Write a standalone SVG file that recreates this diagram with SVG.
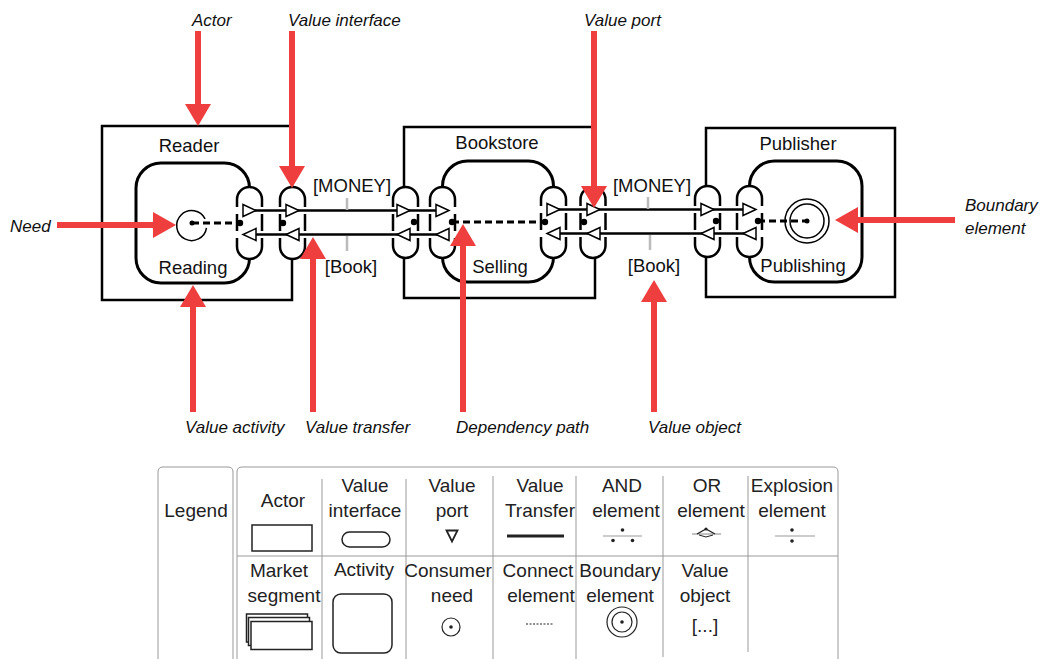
<svg xmlns="http://www.w3.org/2000/svg" width="1040" height="659" viewBox="0 0 1040 659">
<defs>
<style>
.actor{fill:#fff;stroke:#000;stroke-width:2.5}
.act{fill:#fff;stroke:#000;stroke-width:3}
.vi{fill:#fff;stroke:#000;stroke-width:2.5}
.gap{stroke:#fff;stroke-width:7}
.vt{stroke:#000;stroke-width:2.5;fill:none}
.port{fill:#fff;stroke:#000;stroke-width:1.5}
.dot{fill:#000}
.dep{stroke:#000;stroke-width:2.8;stroke-dasharray:7 4;fill:none}
.tick{stroke:#bbb;stroke-width:2.5}
.lbl{font-family:"Liberation Sans",Arial,sans-serif;font-size:18.5px;fill:#111;text-anchor:middle}
.ann{font-family:"Liberation Sans",Arial,sans-serif;font-size:17px;font-style:italic;fill:#111}
.red{fill:#ee3e3e}
.redl{stroke:#ee3e3e;stroke-width:6}
.leg{font-family:"Liberation Sans",Arial,sans-serif;font-size:19px;fill:#222;text-anchor:middle}
.grid{stroke:#999;stroke-width:1;fill:none}
.icon{stroke:#222;stroke-width:1.5;fill:#fff}
.thin{stroke:#999;stroke-width:1.2}
</style>
</defs>
<rect width="1040" height="659" fill="#fff"/>

<!-- Actors -->
<g id="actor-reader"><rect class="actor" x="102" y="126" width="190" height="174"/><text class="lbl" x="189" y="152">Reader</text></g>
<g id="actor-bookstore"><rect class="actor" x="404" y="127" width="191" height="171"/><text class="lbl" x="497" y="149">Bookstore</text></g>
<g id="actor-publisher"><rect class="actor" x="706" y="128" width="189" height="169"/><text class="lbl" x="798" y="150">Publisher</text></g>

<!-- Activities -->
<g id="activity-reading"><rect class="act" x="136" y="163" width="113.5" height="120" rx="25"/><text class="lbl" x="193" y="274">Reading</text></g>
<g id="activity-selling"><rect class="act" x="442.5" y="161" width="111" height="121" rx="25"/><text class="lbl" x="500" y="273">Selling</text></g>
<g id="activity-publishing"><rect class="act" x="749.5" y="161" width="112.5" height="121" rx="25"/><text class="lbl" x="803" y="272">Publishing</text></g>

<!-- Value interfaces -->
<g id="vi1"><rect class="vi" x="237" y="187" width="25" height="72" rx="12.5"/><circle class="dot" cx="240" cy="223" r="3.2"/></g>
<g id="vi2"><rect class="vi" x="280" y="187" width="25" height="72" rx="12.5"/><circle class="dot" cx="283" cy="223" r="3.2"/></g>
<g id="vi3"><rect class="vi" x="393" y="187" width="25" height="71" rx="12.5"/><circle class="dot" cx="414" cy="222" r="3.2"/></g>
<g id="vi4"><rect class="vi" x="430" y="187" width="25" height="71" rx="12.5"/><circle class="dot" cx="452" cy="222" r="3.2"/></g>
<g id="vi5"><rect class="vi" x="541" y="187" width="25" height="71" rx="12.5"/><circle class="dot" cx="545" cy="222" r="3.2"/></g>
<g id="vi6"><rect class="vi" x="580.5" y="187" width="25" height="71" rx="12.5"/><circle class="dot" cx="584" cy="222" r="3.2"/></g>
<g id="vi7"><rect class="vi" x="695" y="186" width="25" height="71" rx="12.5"/><circle class="dot" cx="716" cy="221" r="3.2"/></g>
<g id="vi8"><rect class="vi" x="737" y="186" width="25" height="71" rx="12.5"/><circle class="dot" cx="758" cy="221" r="3.2"/></g>

<!-- Need & boundary -->
<g id="need"><path d="M 205.1 218.9 A 15 15 0 1 0 206.5 227.9" fill="none" stroke="#000" stroke-width="1.5"/><circle class="dot" cx="192" cy="223" r="2.5"/></g>
<g id="boundary"><circle cx="807" cy="221" r="22" fill="none" stroke="#000" stroke-width="1.5"/><circle cx="807" cy="221" r="17" fill="none" stroke="#000" stroke-width="1.5"/><circle class="dot" cx="807" cy="221" r="2.5"/></g>

<!-- Connectors -->
<g id="connectors">
<line class="gap" x1="234" y1="210.5" x2="458" y2="210.5"/>
<line class="gap" x1="234" y1="234.5" x2="458" y2="234.5"/>
<line class="gap" x1="538" y1="209.5" x2="765" y2="209.5"/>
<line class="gap" x1="538" y1="233.5" x2="765" y2="233.5"/>
<line class="vt" x1="249.5" y1="210.5" x2="442.5" y2="210.5"/>
<line class="vt" x1="249.5" y1="234.5" x2="442.5" y2="234.5"/>
<line class="vt" x1="553.5" y1="209.5" x2="749.5" y2="209.5"/>
<line class="vt" x1="553.5" y1="233.5" x2="749.5" y2="233.5"/>
<line class="dep" x1="192" y1="223" x2="240" y2="223"/>
<line class="dep" x1="452" y1="222" x2="545" y2="222"/>
<line class="dep" x1="758" y1="221" x2="807" y2="221"/>
<line class="tick" x1="347" y1="198" x2="347" y2="210"/>
<line class="tick" x1="347" y1="236" x2="347" y2="251"/>
<line class="tick" x1="648" y1="197" x2="648" y2="209"/>
<line class="tick" x1="650" y1="235" x2="650" y2="250"/>
<text class="lbl" x="352" y="192">[MONEY]</text>
<text class="lbl" x="351" y="273">[Book]</text>
<text class="lbl" x="652" y="192">[MONEY]</text>
<text class="lbl" x="654" y="272">[Book]</text>
</g>

<!-- Value ports -->
<g id="ports">
<polygon class="port" points="243,204.5 243,216.5 256,210.5"/>
<polygon class="port" points="256,228.5 256,240.5 243,234.5"/>
<polygon class="port" points="286,204.5 286,216.5 299,210.5"/>
<polygon class="port" points="299,228.5 299,240.5 286,234.5"/>
<polygon class="port" points="397,204.5 397,216.5 410,210.5"/>
<polygon class="port" points="410,228.5 410,240.5 397,234.5"/>
<polygon class="port" points="436,204.5 436,216.5 449,210.5"/>
<polygon class="port" points="449,228.5 449,240.5 436,234.5"/>
<polygon class="port" points="547,203.5 547,215.5 560,209.5"/>
<polygon class="port" points="560,227.5 560,239.5 547,233.5"/>
<polygon class="port" points="587,203.5 587,215.5 600,209.5"/>
<polygon class="port" points="600,227.5 600,239.5 587,233.5"/>
<polygon class="port" points="701,203.5 701,215.5 714,209.5"/>
<polygon class="port" points="714,227.5 714,239.5 701,233.5"/>
<polygon class="port" points="743,203.5 743,215.5 756,209.5"/>
<polygon class="port" points="756,227.5 756,239.5 743,233.5"/>
</g>

<!-- Annotations -->
<g id="annotations">
<line class="redl" x1="198" y1="31" x2="198" y2="106"/><polygon class="red" points="185,104 211,104 198,126"/>
<text class="ann" x="192" y="26">Actor</text>
<line class="redl" x1="292" y1="31" x2="292" y2="168"/><polygon class="red" points="279,166 305,166 292,188"/>
<text class="ann" x="288" y="26">Value interface</text>
<line class="redl" x1="594" y1="31" x2="594" y2="188"/><polygon class="red" points="581,186 607,186 594,208"/>
<text class="ann" x="584" y="26">Value port</text>
<line class="redl" x1="57" y1="225" x2="155" y2="225"/><polygon class="red" points="153,212 153,238 176,225"/>
<text class="ann" x="10" y="232">Need</text>
<line class="redl" x1="856" y1="220" x2="955" y2="220"/><polygon class="red" points="858,207 858,233 835,220"/>
<text class="ann" x="965" y="211">Boundary</text>
<text class="ann" x="965" y="234">element</text>
<line class="redl" x1="193" y1="412" x2="193" y2="305"/><polygon class="red" points="180,307 206,307 193,285"/>
<text class="ann" x="185" y="433">Value activity</text>
<line class="redl" x1="313" y1="412" x2="313" y2="257"/><polygon class="red" points="300,259 326,259 313,237"/>
<text class="ann" x="305" y="433">Value transfer</text>
<line class="redl" x1="463" y1="412" x2="463" y2="244"/><polygon class="red" points="450,246 476,246 463,224"/>
<text class="ann" x="456" y="433">Dependency path</text>
<line class="redl" x1="654" y1="412" x2="654" y2="300"/><polygon class="red" points="641,302 667,302 654,280"/>
<text class="ann" x="648" y="433">Value object</text>
</g>

<!-- Legend -->
<g id="legend">
<path class="grid" d="M158 659 V472 Q158 467 163 467 H228 Q233 467 233 472 V659"/>
<path class="grid" d="M237 659 V472 Q237 467 242 467 H833 Q838 467 838 472 V659"/>
<line class="grid" x1="237" y1="556" x2="838" y2="556"/>
<line class="grid" x1="322" y1="479" x2="322" y2="659"/>
<line class="grid" x1="406" y1="479" x2="406" y2="659"/>
<line class="grid" x1="493" y1="476" x2="493" y2="659"/>
<line class="grid" x1="576" y1="476" x2="576" y2="659"/>
<line class="grid" x1="663" y1="476" x2="663" y2="657"/>
<line class="grid" x1="748" y1="476" x2="748" y2="652"/>
<text class="leg" x="196" y="517">Legend</text>

<text class="leg" x="283" y="507">Actor</text>
<rect class="icon" x="252" y="525" width="60" height="26"/>

<text class="leg" x="365" y="492">Value</text><text class="leg" x="365" y="517">interface</text>
<rect class="icon" x="342" y="532" width="48" height="15" rx="7.5"/>

<text class="leg" x="452" y="492">Value</text><text class="leg" x="452" y="517">port</text>
<polygon points="446.5,530.5 457.5,530.5 452,541.5" fill="none" stroke="#222" stroke-width="1.8"/>

<text class="leg" x="540" y="492">Value</text><text class="leg" x="540" y="517">Transfer</text>
<line x1="507" y1="536" x2="564" y2="536" stroke="#222" stroke-width="3"/>

<text class="leg" x="622" y="492">AND</text><text class="leg" x="626" y="517">element</text>
<line class="thin" x1="603" y1="536" x2="642" y2="536"/>
<circle cx="622.5" cy="530" r="1.8" fill="#222"/><circle cx="613" cy="540.5" r="1.8" fill="#222"/><circle cx="632.5" cy="540.5" r="1.8" fill="#222"/>

<text class="leg" x="707" y="492">OR</text><text class="leg" x="711" y="517">element</text>
<line class="thin" x1="692" y1="534" x2="721" y2="534"/>
<polyline points="697,534 706,529 715,534" fill="none" stroke="#222" stroke-width="1.3"/>
<polyline points="699,535 706,537 713,535" fill="none" stroke="#222" stroke-width="1"/>
<circle cx="706" cy="529" r="1.6" fill="#222"/>

<text class="leg" x="792" y="492">Explosion</text><text class="leg" x="792" y="517">element</text>
<line class="thin" x1="775" y1="536" x2="815" y2="536"/>
<circle cx="792" cy="530" r="1.8" fill="#222"/><circle cx="792" cy="541" r="1.8" fill="#222"/>

<text class="leg" x="279" y="577">Market</text><text class="leg" x="284" y="602">segment</text>
<rect class="icon" x="246.5" y="614" width="61" height="28"/>
<rect class="icon" x="248.5" y="617.5" width="61" height="28"/>
<rect class="icon" x="251" y="621.5" width="61" height="28"/>

<text class="leg" x="364" y="576">Activity</text>
<rect class="icon" x="333" y="594" width="59" height="59" rx="8"/>

<text class="leg" x="448" y="577">Consumer</text><text class="leg" x="452" y="602">need</text>
<circle cx="451" cy="627" r="9" fill="none" stroke="#222" stroke-width="1.2"/><circle cx="451" cy="627" r="1.8" fill="#222"/>

<text class="leg" x="538" y="577">Connect</text><text class="leg" x="541" y="602">element</text>
<line x1="526" y1="624" x2="554" y2="624" stroke="#222" stroke-width="1.2" stroke-dasharray="2 1.5"/>

<text class="leg" x="620" y="577">Boundary</text><text class="leg" x="620" y="602">element</text>
<circle cx="622" cy="622" r="15" fill="none" stroke="#222" stroke-width="1.2"/><circle cx="622" cy="622" r="10" fill="none" stroke="#222" stroke-width="1.2"/><circle cx="622" cy="622" r="1.8" fill="#222"/>

<text class="leg" x="705" y="577">Value</text><text class="leg" x="705" y="602">object</text>
<text class="leg" x="705" y="632">[...]</text>
</g>
</svg>
